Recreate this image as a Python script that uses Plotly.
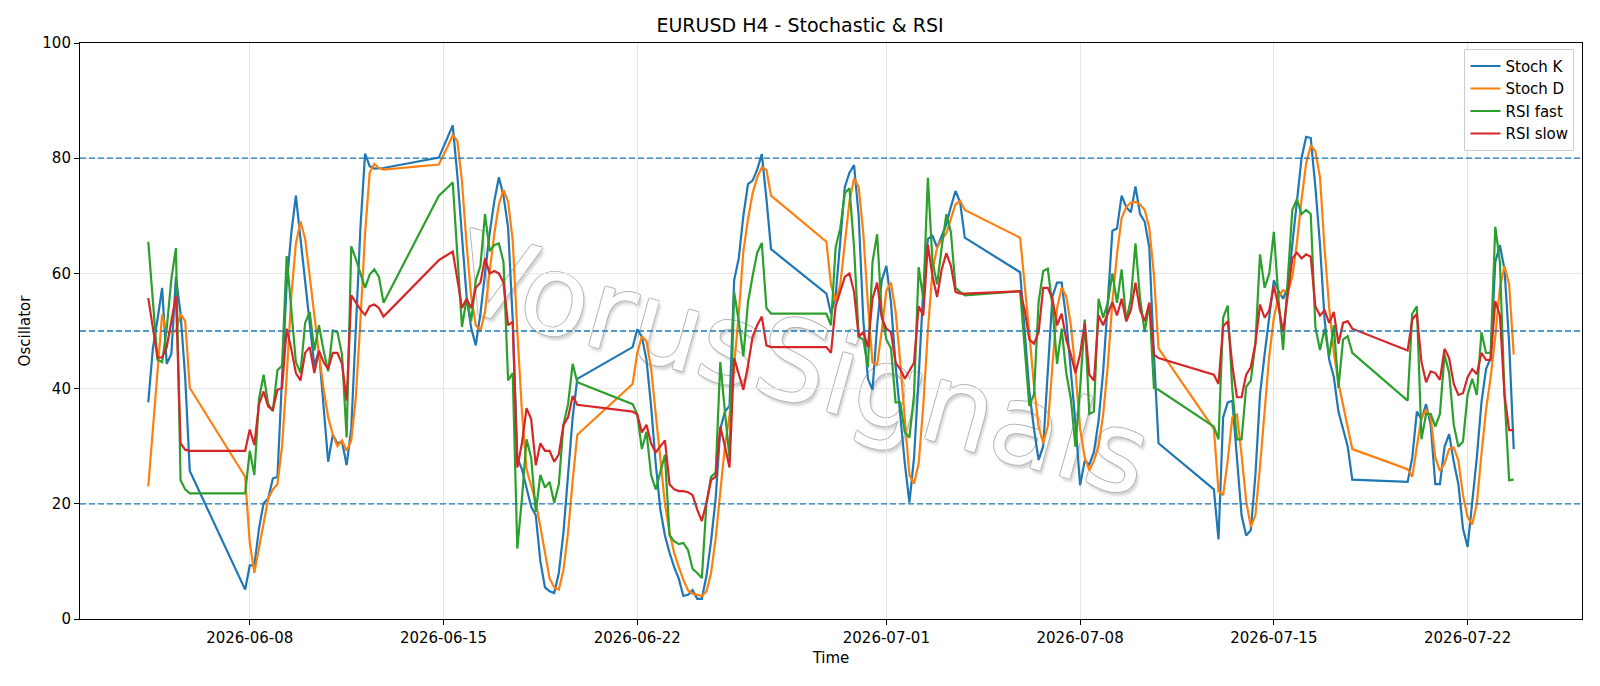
import pandas as pd
import plotly.graph_objects as go

# ---- bar segments (H4 bars, weekend gaps) ----
SEG_STARTS = ["2026-06-04 08:00", "2026-06-07 20:00", "2026-06-14 20:00", "2026-06-21 20:00",
              "2026-06-28 20:00", "2026-07-05 20:00", "2026-07-12 20:00", "2026-07-19 20:00"]
SEG_BARS = [10, 31, 31, 31, 31, 31, 31, 24]

# ---- series values ----
stoch_k = [
    37.6, 47, 52, 57.5, 44.3, 46, 59.4, 53, 42, 25.7,
    5.1, 9.3, 9.3, 15.7, 20.1, 20.9, 24.4, 24.7, 42, 58, 67, 73.5, 66, 58.5, 51, 44, 46.5, 37, 27.3, 32,
    30.5, 30.8, 26.7, 33, 52, 68, 80.8, 78.6, 78.2, 78.2, 78.3,
    80.1, 82, 84, 85.7, 77, 66, 56, 50.5, 47.5, 53, 60, 67, 72.5, 76.7, 73.5, 68, 52, 28, 26, 22.5,
    19.5, 18, 10, 5.5, 4.8, 4.5, 8, 15, 25, 35, 41.7,
    47.2, 50.3, 49, 45, 37, 27, 19, 14.5, 11.5, 9, 7, 4, 4.2, 5, 3.5, 3.5, 7.5, 13.5, 21, 33,
    36, 37, 58.8, 62.6, 70, 75.5, 76.1, 78, 80.7, 73, 64.2,
    56.5, 53, 56, 65, 75, 77.5, 78.8, 70, 52, 41.7, 39.8, 51, 58.8, 61.3, 55, 44, 35, 27, 20.2, 28,
    42, 57, 66, 66.5, 64.5, 66.5, 68.5, 71.6, 74.3, 72.3, 66.2,
    60.2, 49, 39.5, 33, 27.6, 30, 43, 56, 58.4, 58.4, 52, 43, 34, 23.2, 27.5, 26.8, 29, 34.4, 43, 55,
    67.4, 67.8, 73.5, 71.5, 70.6, 75.1, 70.3, 69, 64.5, 46, 30.5,
    22.5, 13.8, 35, 37.6, 37.9, 28, 18, 14.5, 15.4, 25, 39, 46, 52, 58.8, 57, 55.6, 57.5, 65, 73.5, 80,
    83.7, 83.5, 75, 65, 52, 45, 42, 36, 33, 30, 24.2,
    23.8, 28, 36, 34.7, 37.3, 33.7, 23.4, 23.4, 29.9, 32.1, 27.3, 23.4, 15.7, 12.5, 20.2, 28, 37.6,
    43.4, 45.3, 62, 64.9, 60.7, 48, 29.5,
]
stoch_d = [
    23, 33, 43.5, 52.9, 49.8, 49.8, 50, 52.9, 51.7, 40.1,
    24.7, 13.2, 8, 12.5, 17, 20.9, 22.5, 23.4, 30, 42, 56, 65.2, 69, 66, 59.5, 52.5, 46, 40, 35, 32,
    30, 31, 29.2, 31, 38.5, 52, 67, 77.5, 79, 78.3, 78,
    78.9, 80.5, 82.2, 84, 83, 76, 65, 56, 51, 50, 53.3, 60.3, 66.8, 72, 74.5, 72.5, 65.8, 50, 36, 26,
    23, 20.3, 16, 11.5, 7, 5.5, 5.1, 8.5, 15, 24, 32,
    40.8, 46.2, 49.1, 48.2, 43.5, 36, 27.5, 20, 15, 11.5, 9, 6.8, 5, 4.4, 4.2, 4, 4.8, 8, 14, 22.5,
    30, 35.3, 44, 52.8, 63.8, 69.4, 73.9, 76.7, 78.4, 78, 73.5,
    65.5, 58, 55.2, 58, 65.3, 72.5, 76.5, 75, 67, 54.6, 44.5, 44.2, 50, 57, 58.4, 53.4, 44.7, 35, 25, 23.5,
    27, 37, 50, 60.5, 64.5, 65.8, 67, 69.5, 72, 72.6, 71,
    66.2, 58.5, 49.6, 40.5, 33.4, 30.5, 33.5, 44, 54, 57.5, 56, 51, 43, 33, 28, 25.8, 27.5, 30, 35.5, 44,
    55, 63.4, 69.6, 71.5, 72.3, 72.4, 72, 71, 67.9, 59.8, 47,
    33, 22.2, 21.5, 27.5, 35, 35.5, 28.5, 20.5, 16, 18, 26.5, 36.5, 45.7, 52.3, 55.9, 57.1, 56.7, 59.4,
    65.3, 72.8, 79.1, 82.2, 81.2, 76.7, 64.3, 54, 46.3, 41, 37, 33, 29.5,
    26, 24.7, 29.9, 35, 36.3, 35, 28, 25.7, 27, 29.5, 29.8, 27.5, 21.5, 17.7, 16.4, 20, 28.6, 36.3,
    42, 49, 57.5, 61.3, 58.1, 45.9,
]
rsi_fast = [
    65.5, 55.5, 45, 44.6, 50.4, 59, 64.4, 24.1, 22.5, 21.8,
    21.8, 29.2, 25, 38.2, 42.4, 37.3, 36.1, 43.2, 44, 63, 54.3, 44.6, 42.7, 51.4, 53.3, 46.6, 51, 46.6,
    43, 50.1, 49.8, 45.9, 31.5, 64.7, 62.5, 60, 57.5, 59.8, 60.7, 59.4, 54.9,
    73.5, 74.2, 75, 75.8, 63, 50.7, 55.6, 51.7, 58.8, 61.3, 70.3, 63.9, 64.9, 65.2, 62, 41.4, 42.7, 12.2,
    20.9, 31.2, 28, 18.6, 25, 22.8, 23.8, 20.2, 23.4, 33.7, 37.3, 44.3, 41.1,
    37.3, 35.5, 29.5, 32.5, 25, 22.5, 25.5, 28.5, 14.5, 13.5, 13, 13.2, 12, 8.7, 8, 7.1, 20, 24.7, 25.4,
    44.6, 36, 28, 56.8, 51.7, 45.6, 55, 59.5, 63.6, 65.3, 54, 53,
    53, 51, 64.5, 67.8, 73.9, 74.8, 64.5, 49, 48.5, 43.7, 62, 66.8, 53, 48.5, 47, 37.6, 37.6, 32.4, 31.5,
    38.9, 61.1, 55.6, 76.6, 62, 58.1, 64.5, 70.3, 67.1, 57.5, 56.8, 56.2,
    56.9, 47.5, 37, 39, 55, 60.4, 60.8, 54.3, 44.3, 50.4, 42.7, 38.2, 29.9, 40, 52, 35.6, 36, 55.6, 52.3,
    54.9, 60, 54.9, 60.7, 51.7, 55.6, 65.2, 55.6, 49.8, 54.9, 40.1, 39.8,
    33.4, 31.2, 52.3, 54.4, 39.8, 31.2, 31.2, 40.3, 41.4, 47.8, 63.3, 57.5, 60, 67.2, 55.6, 46.7, 58.8, 71,
    72.9, 70.3, 71, 70.3, 50.7, 46.7, 50.4, 45.6, 51, 40.1, 48.5, 49.1, 46.2,
    37.9, 53, 54.3, 31.2, 35.6, 35.6, 33.4, 35.6, 45.9, 42.7, 33.7, 29.9, 30.8, 38.9, 41.7, 38.9, 49.8,
    46.2, 46.2, 68.1, 62, 38.9, 24.1, 24.2,
]
rsi_slow = [
    55.7, 50.4, 45.4, 45.4, 47.2, 51.7, 56.1, 30.5, 29.4, 29.2,
    29.2, 32.9, 30.2, 37.3, 39.5, 36.9, 36.3, 39.8, 40.1, 50.4, 46.9, 42.7, 41.4, 46.2, 47.2, 42.7, 46.6,
    44.6, 43.4, 46.2, 46.2, 44.3, 37.9, 56.2, 55, 53.7, 52.8, 54.3, 54.6, 54, 52.5,
    62.3, 62.8, 63.3, 63.8, 59, 54, 55.6, 54, 57.5, 58.4, 62.6, 60, 60.4, 60, 58.4, 51, 51.6, 26.3, 30.5,
    36.6, 34.7, 26.7, 30.5, 29.2, 29.2, 27.3, 28.6, 33.7, 35, 38.7, 37.2,
    36, 35.5, 32.4, 33.7, 30.5, 28.9, 30, 31, 23.4, 22.5, 22.2, 22.2, 22, 21.5, 19, 17, 20.2, 24.1, 24.7,
    33.4, 30, 26.3, 45.3, 42.7, 39.8, 44, 49, 51, 52.5, 47.5, 47.2,
    47.2, 46.2, 54.3, 56.8, 59.4, 60, 56.8, 49, 49.8, 47.2, 55.6, 58.4, 52.3, 50.4, 49.8, 44.5, 43.4, 41.7,
    43, 44.5, 54.3, 52.7, 65, 59.5, 55.9, 60.7, 63.5, 61.3, 56.8, 56.5, 56.5,
    56.9, 53.6, 48.5, 47.8, 49.8, 57.5, 57.5, 55.6, 51, 53, 48.5, 45.9, 42.7, 46, 51.4, 42.4, 41.4, 52.7,
    51, 53, 55, 52.7, 55.6, 51.7, 53.6, 58.4, 53.6, 51.7, 54.9, 45.9, 45.3,
    42.4, 40.8, 50.8, 51.7, 44, 38.5, 38.5, 42.4, 43.7, 47.8, 54.6, 52.3, 53.6, 57.8, 54.3, 49.8, 56.2,
    62.6, 63.6, 62.6, 63.3, 62.9, 54.3, 52.7, 53.6, 51.4, 53.3, 47.8, 51.4, 51.7, 50.4,
    46.6, 52, 53, 44.6, 41.1, 43, 42.7, 41.5, 46.9, 45.3, 40.8, 38.9, 39.2, 42, 43.4, 42.5, 46.2, 45, 45,
    55.2, 52.7, 38.9, 32.8, 32.8,
]

SERIES_NAMES = ["Stoch K", "Stoch D", "RSI fast", "RSI slow"]
COLORS = ["#1f77b4", "#ff7f0e", "#2ca02c", "#d62728"]
LEVELS = [80, 50, 20]
Y_TICKS = [0, 20, 40, 60, 80, 100]
X_TICKS = ["2026-06-08", "2026-06-15", "2026-06-22", "2026-07-01", "2026-07-08", "2026-07-15", "2026-07-22"]
X_RANGE = ["2026-06-01 20:48", "2026-07-26 03:12"]
WATERMARK = "VorusSignals"
WM_BOX_X = ["2026-06-26 01:00", "2026-06-30 01:00"]
WM_BOX_Y = [42.1, 49.1]

times = pd.DatetimeIndex([])
for s, n in zip(SEG_STARTS, SEG_BARS):
    times = times.append(pd.date_range(s, periods=n, freq="4h"))

FONT = "DejaVu Sans"
fig = go.Figure()
for name, vals, col in zip(SERIES_NAMES, [stoch_k, stoch_d, rsi_fast, rsi_slow], COLORS):
    fig.add_trace(go.Scatter(x=times, y=vals, mode="lines", name=name,
                             line=dict(color=col, width=2.2)))

for lv in LEVELS:
    fig.add_hline(y=lv, line=dict(color="#1f77b4", width=1.3, dash="6px,3px"), layer="above")

# watermark: hollow grey-outlined text, drawn beneath the data lines
outline = "#b4b4b4"
fig.add_shape(type="rect", xref="x", yref="y",
              x0=WM_BOX_X[0], x1=WM_BOX_X[1], y0=WM_BOX_Y[0], y1=WM_BOX_Y[1],
              line=dict(width=0), fillcolor="rgba(0,0,0,0)", layer="below",
              label=dict(text=WATERMARK, textangle=15.5, textposition="middle center",
                         font=dict(family=FONT, size=112, color="white",
                                   shadow=(f"1px 0 0 {outline}, -1px 0 0 {outline}, 0 1px 0 {outline}, "
                                           f"0 -1px 0 {outline}, 3px 3px 3px #d2d2d2"))))

fig.update_layout(
    width=1600, height=686,
    margin=dict(l=80, r=18, t=43, b=67),
    paper_bgcolor="white", plot_bgcolor="white",
    font=dict(family=FONT, size=15, color="black"),
    title=dict(text="EURUSD H4 - Stochastic & RSI", x=0.5, xanchor="center",
               y=1 - 25.5 / 686, yanchor="middle", yref="container",
               font=dict(family=FONT, size=19, color="black")),
    legend=dict(x=0.995, y=0.99, xanchor="right", yanchor="top",
                bgcolor="rgba(255,255,255,0.8)", bordercolor="#cccccc", borderwidth=1,
                font=dict(family=FONT, size=15), tracegroupgap=2),
    showlegend=True,
)
fig.update_xaxes(type="date", range=X_RANGE, tickvals=X_TICKS, ticktext=X_TICKS,
                 showgrid=True, gridcolor="#e6e6e6", gridwidth=1,
                 showline=True, linecolor="black", linewidth=1.1, mirror=True,
                 ticks="outside", ticklen=5, tickcolor="black",
                 title=dict(text="Time", standoff=6, font=dict(family=FONT, size=15)),
                 zeroline=False)
fig.update_yaxes(range=[0, 100], tickvals=Y_TICKS,
                 showgrid=True, gridcolor="#e6e6e6", gridwidth=1,
                 showline=True, linecolor="black", linewidth=1.1, mirror=True,
                 ticks="outside", ticklen=5, tickcolor="black",
                 title=dict(text="Oscillator", standoff=8, font=dict(family=FONT, size=15)),
                 zeroline=False)

fig.write_html("out.html")
